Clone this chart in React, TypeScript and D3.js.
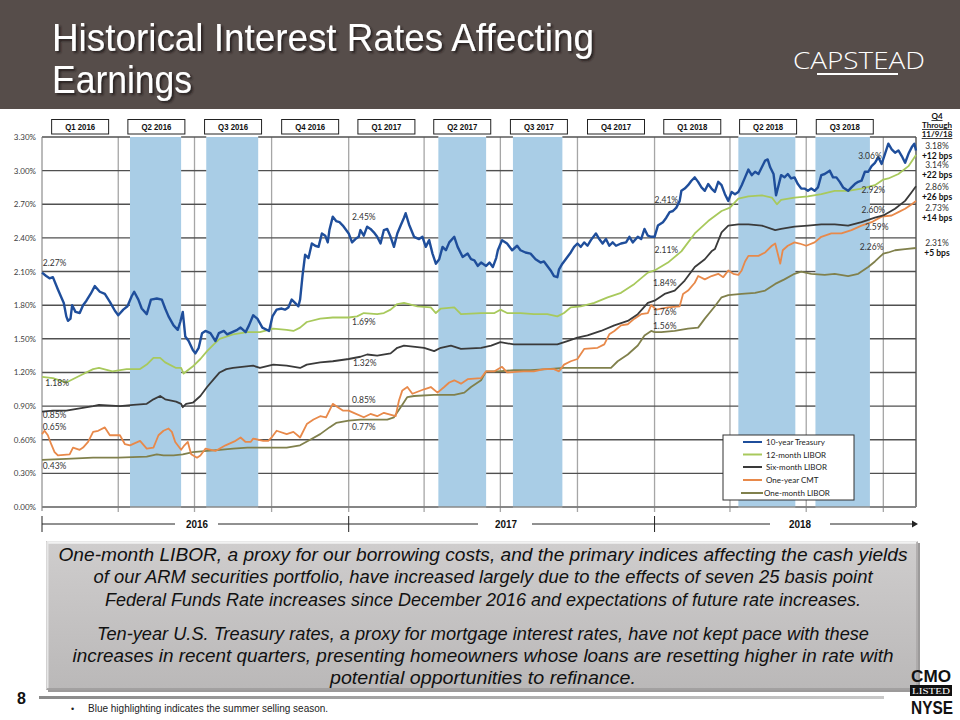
import React from 'react';
import * as d3 from 'd3';

type Pt = [string, number];

// weekly-ish readings, percent
const tenYearTreasury: Pt[] = [
  ['2016-01-01', 2.09], ['2016-01-06', 2.06], ['2016-01-10', 2.04], ['2016-01-14', 2.05], ['2016-01-20', 1.94],
  ['2016-01-24', 1.87], ['2016-01-27', 1.82], ['2016-01-30', 1.70], ['2016-02-01', 1.66], ['2016-02-04', 1.68],
  ['2016-02-06', 1.80], ['2016-02-10', 1.74], ['2016-02-15', 1.73], ['2016-02-19', 1.80], ['2016-02-23', 1.84],
  ['2016-02-28', 1.90], ['2016-03-04', 1.97], ['2016-03-10', 1.92], ['2016-03-16', 1.90], ['2016-03-22', 1.83],
  ['2016-03-28', 1.75], ['2016-04-01', 1.71], ['2016-04-07', 1.76], ['2016-04-12', 1.79], ['2016-04-17', 1.88],
  ['2016-04-20', 1.92], ['2016-04-25', 1.85], ['2016-04-29', 1.77], ['2016-05-05', 1.72], ['2016-05-10', 1.85],
  ['2016-05-17', 1.86], ['2016-05-23', 1.85], ['2016-05-27', 1.77], ['2016-05-31', 1.70], ['2016-06-06', 1.62],
  ['2016-06-11', 1.58], ['2016-06-14', 1.65], ['2016-06-17', 1.74], ['2016-06-20', 1.52], ['2016-06-24', 1.48],
  ['2016-06-29', 1.40], ['2016-07-02', 1.37], ['2016-07-06', 1.42], ['2016-07-10', 1.55], ['2016-07-14', 1.57],
  ['2016-07-20', 1.55], ['2016-07-26', 1.48], ['2016-07-30', 1.55], ['2016-08-05', 1.57], ['2016-08-09', 1.54],
  ['2016-08-15', 1.56], ['2016-08-21', 1.58], ['2016-08-25', 1.60], ['2016-08-31', 1.56], ['2016-09-04', 1.62],
  ['2016-09-09', 1.71], ['2016-09-14', 1.68], ['2016-09-20', 1.60], ['2016-09-28', 1.57], ['2016-10-02', 1.70],
  ['2016-10-07', 1.76], ['2016-10-13', 1.77], ['2016-10-17', 1.76], ['2016-10-21', 1.78], ['2016-10-25', 1.85],
  ['2016-10-29', 1.82], ['2016-11-02', 1.79], ['2016-11-04', 1.85], ['2016-11-07', 2.07], ['2016-11-10', 2.25],
  ['2016-11-14', 2.22], ['2016-11-18', 2.35], ['2016-11-22', 2.33], ['2016-11-26', 2.32], ['2016-11-30', 2.44],
  ['2016-12-04', 2.42], ['2016-12-07', 2.36], ['2016-12-09', 2.47], ['2016-12-13', 2.59], ['2016-12-17', 2.55],
  ['2016-12-21', 2.54], ['2016-12-25', 2.51], ['2017-01-01', 2.44], ['2017-01-05', 2.36], ['2017-01-09', 2.39],
  ['2017-01-13', 2.41], ['2017-01-15', 2.47], ['2017-01-19', 2.42], ['2017-01-23', 2.50], ['2017-01-27', 2.48],
  ['2017-01-31', 2.45], ['2017-02-04', 2.41], ['2017-02-08', 2.35], ['2017-02-12', 2.47], ['2017-02-16', 2.48],
  ['2017-02-20', 2.41], ['2017-02-24', 2.32], ['2017-02-28', 2.44], ['2017-03-04', 2.51], ['2017-03-08', 2.58],
  ['2017-03-10', 2.62], ['2017-03-14', 2.52], ['2017-03-20', 2.41], ['2017-03-26', 2.39], ['2017-03-30', 2.41],
  ['2017-04-03', 2.32], ['2017-04-07', 2.38], ['2017-04-11', 2.26], ['2017-04-15', 2.17], ['2017-04-19', 2.21],
  ['2017-04-23', 2.32], ['2017-04-27', 2.29], ['2017-05-01', 2.36], ['2017-05-07', 2.41], ['2017-05-11', 2.32],
  ['2017-05-17', 2.23], ['2017-05-23', 2.26], ['2017-05-27', 2.21], ['2017-05-31', 2.20], ['2017-06-04', 2.15],
  ['2017-06-08', 2.18], ['2017-06-14', 2.15], ['2017-06-18', 2.18], ['2017-06-22', 2.14], ['2017-06-26', 2.22],
  ['2017-06-28', 2.29], ['2017-07-03', 2.38], ['2017-07-09', 2.35], ['2017-07-15', 2.29], ['2017-07-21', 2.33],
  ['2017-07-25', 2.29], ['2017-07-31', 2.27], ['2017-08-06', 2.26], ['2017-08-12', 2.21], ['2017-08-18', 2.18],
  ['2017-08-22', 2.19], ['2017-08-26', 2.15], ['2017-08-30', 2.11], ['2017-09-03', 2.06], ['2017-09-07', 2.05],
  ['2017-09-09', 2.12], ['2017-09-13', 2.17], ['2017-09-19', 2.23], ['2017-09-23', 2.27], ['2017-09-27', 2.32],
  ['2017-10-01', 2.35], ['2017-10-05', 2.32], ['2017-10-09', 2.36], ['2017-10-13', 2.33], ['2017-10-17', 2.38],
  ['2017-10-23', 2.44], ['2017-10-27', 2.39], ['2017-10-31', 2.35], ['2017-11-04', 2.39], ['2017-11-08', 2.33],
  ['2017-11-12', 2.36], ['2017-11-16', 2.33], ['2017-11-22', 2.35], ['2017-11-28', 2.36], ['2017-12-02', 2.41],
  ['2017-12-06', 2.36], ['2017-12-12', 2.41], ['2017-12-16', 2.39], ['2017-12-20', 2.48], ['2017-12-24', 2.42],
  ['2017-12-28', 2.41], ['2018-01-01', 2.41], ['2018-01-05', 2.51], ['2018-01-11', 2.54], ['2018-01-15', 2.58],
  ['2018-01-19', 2.63], ['2018-01-23', 2.64], ['2018-01-27', 2.67], ['2018-01-31', 2.73], ['2018-02-02', 2.82],
  ['2018-02-06', 2.84], ['2018-02-10', 2.87], ['2018-02-14', 2.91], ['2018-02-18', 2.94], ['2018-02-22', 2.90],
  ['2018-02-26', 2.85], ['2018-03-02', 2.82], ['2018-03-06', 2.88], ['2018-03-10', 2.84], ['2018-03-14', 2.81],
  ['2018-03-18', 2.90], ['2018-03-22', 2.87], ['2018-03-26', 2.79], ['2018-03-30', 2.73], ['2018-04-03', 2.81],
  ['2018-04-07', 2.79], ['2018-04-11', 2.81], ['2018-04-15', 2.87], ['2018-04-19', 2.94], ['2018-04-23', 3.01],
  ['2018-04-27', 2.96], ['2018-05-01', 2.99], ['2018-05-05', 2.97], ['2018-05-09', 3.03], ['2018-05-13', 3.09],
  ['2018-05-16', 3.10], ['2018-05-19', 3.03], ['2018-05-23', 2.97], ['2018-05-26', 2.78], ['2018-05-30', 2.90],
  ['2018-06-01', 2.96], ['2018-06-05', 2.94], ['2018-06-09', 2.97], ['2018-06-13', 2.93], ['2018-06-17', 2.94],
  ['2018-06-21', 2.88], ['2018-06-25', 2.84], ['2018-06-29', 2.84], ['2018-07-03', 2.82], ['2018-07-07', 2.84],
  ['2018-07-11', 2.82], ['2018-07-15', 2.85], ['2018-07-19', 2.96], ['2018-07-23', 2.97], ['2018-07-29', 3.00],
  ['2018-08-02', 2.94], ['2018-08-06', 2.94], ['2018-08-10', 2.90], ['2018-08-14', 2.85], ['2018-08-20', 2.82],
  ['2018-08-24', 2.85], ['2018-08-28', 2.88], ['2018-09-01', 2.90], ['2018-09-05', 2.91], ['2018-09-09', 2.99],
  ['2018-09-13', 2.99], ['2018-09-17', 3.04], ['2018-09-21', 3.07], ['2018-09-25', 3.12], ['2018-09-29', 3.06],
  ['2018-10-03', 3.15], ['2018-10-07', 3.24], ['2018-10-11', 3.19], ['2018-10-15', 3.16], ['2018-10-19', 3.18],
  ['2018-10-23', 3.13], ['2018-10-27', 3.07], ['2018-10-31', 3.15], ['2018-11-04', 3.21], ['2018-11-07', 3.24],
  ['2018-11-09', 3.18],
];

const twelveMonthLibor: Pt[] = [
  ['2016-01-01', 1.16], ['2016-01-14', 1.15], ['2016-01-30', 1.11], ['2016-02-15', 1.17], ['2016-03-02', 1.23],
  ['2016-03-09', 1.24], ['2016-03-25', 1.21], ['2016-04-11', 1.23], ['2016-04-27', 1.23], ['2016-05-05', 1.27],
  ['2016-05-13', 1.33], ['2016-05-21', 1.33], ['2016-05-27', 1.29], ['2016-06-09', 1.24], ['2016-06-15', 1.24],
  ['2016-06-18', 1.19], ['2016-06-23', 1.22], ['2016-06-30', 1.26], ['2016-07-08', 1.32], ['2016-07-16', 1.39],
  ['2016-07-24', 1.45], ['2016-07-31', 1.50], ['2016-08-16', 1.54], ['2016-09-02', 1.56], ['2016-09-17', 1.56],
  ['2016-10-03', 1.59], ['2016-10-19', 1.58], ['2016-10-27', 1.57], ['2016-11-04', 1.60], ['2016-11-12', 1.65],
  ['2016-11-28', 1.68], ['2016-12-13', 1.69], ['2017-01-01', 1.69], ['2017-01-11', 1.70], ['2017-01-19', 1.73],
  ['2017-02-04', 1.72], ['2017-02-12', 1.73], ['2017-02-20', 1.76], ['2017-02-28', 1.81], ['2017-03-08', 1.82],
  ['2017-03-24', 1.79], ['2017-04-09', 1.78], ['2017-04-15', 1.73], ['2017-04-21', 1.77], ['2017-05-07', 1.78],
  ['2017-05-15', 1.72], ['2017-06-08', 1.73], ['2017-06-24', 1.73], ['2017-07-01', 1.76], ['2017-07-09', 1.73],
  ['2017-07-25', 1.73], ['2017-08-10', 1.72], ['2017-08-26', 1.72], ['2017-09-07', 1.70], ['2017-09-15', 1.73],
  ['2017-09-23', 1.78], ['2017-10-05', 1.79], ['2017-10-21', 1.82], ['2017-11-06', 1.87], ['2017-11-22', 1.91],
  ['2017-12-08', 1.99], ['2017-12-24', 2.09], ['2018-01-01', 2.11], ['2018-01-17', 2.18], ['2018-02-02', 2.28],
  ['2018-02-18', 2.44], ['2018-03-06', 2.55], ['2018-03-22', 2.64], ['2018-04-01', 2.67], ['2018-04-11', 2.75],
  ['2018-04-23', 2.77], ['2018-05-09', 2.78], ['2018-05-21', 2.76], ['2018-05-27', 2.70], ['2018-06-01', 2.74],
  ['2018-06-17', 2.76], ['2018-07-03', 2.77], ['2018-07-19', 2.79], ['2018-08-04', 2.82], ['2018-08-20', 2.82],
  ['2018-09-05', 2.84], ['2018-09-21', 2.87], ['2018-10-01', 2.92], ['2018-10-07', 2.93], ['2018-10-19', 2.97],
  ['2018-10-31', 3.04], ['2018-11-09', 3.14],
];

const sixMonthLibor: Pt[] = [
  ['2016-01-01', 0.85], ['2016-01-14', 0.86], ['2016-01-30', 0.86], ['2016-02-15', 0.88], ['2016-03-02', 0.90],
  ['2016-03-09', 0.91], ['2016-04-03', 0.90], ['2016-04-19', 0.91], ['2016-05-05', 0.92], ['2016-05-13', 0.96],
  ['2016-05-21', 0.99], ['2016-05-27', 0.96], ['2016-06-09', 0.94], ['2016-06-15', 0.92], ['2016-06-17', 0.89],
  ['2016-06-21', 0.92], ['2016-06-29', 0.93], ['2016-07-08', 0.99], ['2016-07-16', 1.07], ['2016-07-24', 1.14],
  ['2016-07-31', 1.20], ['2016-08-08', 1.23], ['2016-08-16', 1.24], ['2016-09-09', 1.26], ['2016-09-17', 1.24],
  ['2016-10-03', 1.27], ['2016-10-19', 1.26], ['2016-11-04', 1.24], ['2016-11-12', 1.27], ['2016-11-28', 1.29],
  ['2016-12-13', 1.30], ['2017-01-01', 1.32], ['2017-01-15', 1.34], ['2017-01-23', 1.36], ['2017-02-04', 1.35],
  ['2017-02-20', 1.37], ['2017-02-28', 1.42], ['2017-03-08', 1.44], ['2017-04-01', 1.42], ['2017-04-13', 1.39],
  ['2017-04-21', 1.42], ['2017-05-03', 1.44], ['2017-05-15', 1.41], ['2017-06-08', 1.42], ['2017-06-20', 1.44],
  ['2017-07-01', 1.47], ['2017-07-17', 1.45], ['2017-08-06', 1.45], ['2017-09-07', 1.45], ['2017-09-19', 1.48],
  ['2017-10-01', 1.51], ['2017-10-13', 1.53], ['2017-10-29', 1.57], ['2017-11-14', 1.62], ['2017-11-30', 1.66],
  ['2017-12-12', 1.72], ['2017-12-24', 1.82], ['2018-01-01', 1.84], ['2018-01-13', 1.90], ['2018-01-25', 1.93],
  ['2018-02-06', 2.02], ['2018-02-18', 2.14], ['2018-03-02', 2.21], ['2018-03-10', 2.28], ['2018-03-14', 2.30],
  ['2018-03-22', 2.45], ['2018-03-30', 2.51], ['2018-04-11', 2.52], ['2018-04-23', 2.52], ['2018-05-09', 2.51],
  ['2018-05-25', 2.47], ['2018-06-01', 2.48], ['2018-06-17', 2.50], ['2018-07-03', 2.51], ['2018-07-19', 2.52],
  ['2018-08-04', 2.52], ['2018-08-20', 2.51], ['2018-09-05', 2.54], ['2018-09-21', 2.58], ['2018-10-01', 2.60],
  ['2018-10-15', 2.66], ['2018-10-27', 2.73], ['2018-11-04', 2.81], ['2018-11-09', 2.86],
];

const oneYearCmt: Pt[] = [
  ['2016-01-01', 0.65], ['2016-01-04', 0.68], ['2016-01-08', 0.64], ['2016-01-12', 0.56], ['2016-01-16', 0.49],
  ['2016-01-20', 0.46], ['2016-02-03', 0.47], ['2016-02-07', 0.53], ['2016-02-15', 0.51], ['2016-02-19', 0.53],
  ['2016-02-25', 0.58], ['2016-03-02', 0.67], ['2016-03-08', 0.68], ['2016-03-16', 0.71], ['2016-03-22', 0.64],
  ['2016-04-03', 0.64], ['2016-04-09', 0.56], ['2016-04-15', 0.55], ['2016-04-27', 0.59], ['2016-05-05', 0.52],
  ['2016-05-13', 0.53], ['2016-05-19', 0.64], ['2016-05-25', 0.68], ['2016-05-31', 0.70], ['2016-06-04', 0.67],
  ['2016-06-08', 0.58], ['2016-06-15', 0.51], ['2016-06-19', 0.55], ['2016-06-23', 0.58], ['2016-06-27', 0.47],
  ['2016-07-04', 0.44], ['2016-07-08', 0.46], ['2016-07-14', 0.52], ['2016-07-26', 0.50], ['2016-08-07', 0.55],
  ['2016-08-19', 0.59], ['2016-08-25', 0.62], ['2016-08-31', 0.58], ['2016-09-06', 0.58], ['2016-09-09', 0.61],
  ['2016-09-21', 0.59], ['2016-09-27', 0.59], ['2016-10-01', 0.62], ['2016-10-07', 0.68], ['2016-10-19', 0.65],
  ['2016-10-27', 0.67], ['2016-11-04', 0.62], ['2016-11-12', 0.74], ['2016-11-20', 0.78], ['2016-11-28', 0.81],
  ['2016-12-05', 0.80], ['2016-12-13', 0.92], ['2016-12-19', 0.89], ['2016-12-25', 0.86], ['2017-01-01', 0.86],
  ['2017-01-07', 0.84], ['2017-01-19', 0.80], ['2017-01-27', 0.83], ['2017-02-04', 0.81], ['2017-02-12', 0.84],
  ['2017-02-26', 0.81], ['2017-03-02', 0.95], ['2017-03-06', 1.04], ['2017-03-12', 1.07], ['2017-03-18', 1.01],
  ['2017-04-01', 1.05], ['2017-04-09', 1.07], ['2017-04-17', 1.02], ['2017-04-25', 1.07], ['2017-05-01', 1.11],
  ['2017-05-07', 1.13], ['2017-05-15', 1.10], ['2017-05-23', 1.14], ['2017-06-08', 1.15], ['2017-06-14', 1.21],
  ['2017-06-24', 1.21], ['2017-07-03', 1.25], ['2017-07-09', 1.20], ['2017-07-29', 1.21], ['2017-08-10', 1.21],
  ['2017-08-22', 1.23], ['2017-09-03', 1.23], ['2017-09-09', 1.21], ['2017-09-15', 1.27], ['2017-09-23', 1.30],
  ['2017-10-01', 1.32], ['2017-10-09', 1.41], ['2017-10-25', 1.42], ['2017-11-02', 1.45], ['2017-11-08', 1.54],
  ['2017-11-14', 1.57], ['2017-11-22', 1.62], ['2017-11-30', 1.63], ['2017-12-08', 1.68], ['2017-12-16', 1.72],
  ['2017-12-24', 1.73], ['2017-12-28', 1.80], ['2018-01-03', 1.76], ['2018-01-17', 1.78], ['2018-01-31', 1.79],
  ['2018-02-04', 1.90], ['2018-02-10', 1.93], ['2018-02-18', 2.00], ['2018-02-22', 2.06], ['2018-03-02', 2.03],
  ['2018-03-10', 2.06], ['2018-03-18', 2.08], ['2018-03-24', 2.05], ['2018-03-30', 2.11], ['2018-04-05', 2.08],
  ['2018-04-11', 2.07], ['2018-04-15', 2.11], ['2018-04-19', 2.19], ['2018-04-23', 2.24], ['2018-05-05', 2.24],
  ['2018-05-13', 2.27], ['2018-05-21', 2.33], ['2018-05-25', 2.35], ['2018-05-29', 2.23], ['2018-05-31', 2.17],
  ['2018-06-03', 2.29], ['2018-06-09', 2.33], ['2018-06-17', 2.36], ['2018-06-23', 2.35], ['2018-07-01', 2.33],
  ['2018-07-11', 2.36], ['2018-07-19', 2.41], ['2018-07-31', 2.44], ['2018-08-12', 2.44], ['2018-08-24', 2.47],
  ['2018-09-05', 2.51], ['2018-09-17', 2.54], ['2018-09-29', 2.59], ['2018-10-11', 2.60], ['2018-10-19', 2.63],
  ['2018-10-27', 2.66], ['2018-11-04', 2.70], ['2018-11-09', 2.73],
];

const oneMonthLibor: Pt[] = [
  ['2016-01-01', 0.42], ['2016-01-30', 0.43], ['2016-03-02', 0.44], ['2016-04-01', 0.44], ['2016-05-05', 0.45],
  ['2016-05-17', 0.47], ['2016-05-25', 0.46], ['2016-06-06', 0.46], ['2016-06-17', 0.47], ['2016-06-29', 0.49],
  ['2016-07-16', 0.50], ['2016-07-31', 0.51], ['2016-08-16', 0.52], ['2016-09-02', 0.53], ['2016-10-03', 0.53],
  ['2016-10-19', 0.53], ['2016-11-04', 0.55], ['2016-11-16', 0.60], ['2016-11-28', 0.65], ['2016-12-09', 0.71],
  ['2016-12-17', 0.75], ['2017-01-01', 0.77], ['2017-01-15', 0.78], ['2017-02-16', 0.78], ['2017-02-24', 0.80],
  ['2017-03-04', 0.89], ['2017-03-12', 0.98], ['2017-03-20', 0.99], ['2017-04-13', 1.00], ['2017-05-07', 1.00],
  ['2017-05-19', 1.02], ['2017-05-27', 1.07], ['2017-06-08', 1.13], ['2017-06-14', 1.21], ['2017-06-28', 1.21],
  ['2017-07-17', 1.22], ['2017-08-06', 1.22], ['2017-08-26', 1.23], ['2017-09-15', 1.24], ['2017-10-05', 1.24],
  ['2017-10-25', 1.24], ['2017-11-10', 1.24], ['2017-11-18', 1.30], ['2017-11-30', 1.36], ['2017-12-12', 1.44],
  ['2017-12-20', 1.53], ['2017-12-28', 1.57], ['2018-01-01', 1.56], ['2018-01-09', 1.56], ['2018-01-25', 1.57],
  ['2018-02-10', 1.59], ['2018-02-22', 1.60], ['2018-03-02', 1.68], ['2018-03-14', 1.79], ['2018-03-22', 1.87],
  ['2018-03-30', 1.89], ['2018-04-15', 1.90], ['2018-05-01', 1.91], ['2018-05-13', 1.93], ['2018-05-25', 1.99],
  ['2018-06-05', 2.03], ['2018-06-17', 2.08], ['2018-06-25', 2.10], ['2018-07-07', 2.08], ['2018-07-23', 2.07],
  ['2018-08-04', 2.08], ['2018-08-20', 2.06], ['2018-09-01', 2.08], ['2018-09-13', 2.14], ['2018-09-21', 2.19],
  ['2018-10-01', 2.26], ['2018-10-07', 2.27], ['2018-10-15', 2.29], ['2018-10-27', 2.30], ['2018-11-09', 2.31],
];

const yTicks = [0, 0.3, 0.6, 0.9, 1.2, 1.5, 1.8, 2.1, 2.4, 2.7, 3.0, 3.3];
const quarterLabels = ['Q1 2016', 'Q2 2016', 'Q3 2016', 'Q4 2016', 'Q1 2017', 'Q2 2017', 'Q3 2017', 'Q4 2017', 'Q1 2018', 'Q2 2018', 'Q3 2018'];
const yearLabels = ['2016', '2017', '2018'];

// summer selling season highlights
const summerBands: [string, string][] = [
  ['2016-04-15', '2016-06-15'], ['2016-07-15', '2016-09-15'],
  ['2017-04-18', '2017-06-14'], ['2017-07-16', '2017-09-13'],
  ['2018-04-11', '2018-06-18'], ['2018-07-12', '2018-09-15'],
];

// point labels: text, date and value where the label sits
const pointLabels: [string, string, number][] = [
  ['2.27%', '2016-01-02', 2.18], ['1.18%', '2016-01-05', 1.11], ['0.85%', '2016-01-02', 0.82],
  ['0.65%', '2016-01-02', 0.71], ['0.43%', '2016-01-02', 0.37],
  ['2.45%', '2017-01-05', 2.59], ['1.69%', '2017-01-05', 1.65], ['1.32%', '2017-01-06', 1.28],
  ['0.85%', '2017-01-05', 0.95], ['0.77%', '2017-01-05', 0.71],
  ['2.41%', '2018-01-01', 2.74], ['2.11%', '2018-01-01', 2.29], ['1.84%', '2017-12-30', 2.00],
  ['1.76%', '2017-12-30', 1.74], ['1.56%', '2017-12-30', 1.61],
  ['3.06%', '2018-09-01', 3.13], ['2.92%', '2018-09-05', 2.83], ['2.60%', '2018-09-05', 2.65],
  ['2.59%', '2018-09-09', 2.50], ['2.26%', '2018-09-03', 2.32],
];

const latestRates = ['3.18%', '3.14%', '2.86%', '2.73%', '2.31%'];
const quarterChanges = ['+12 bps', '+22 bps', '+26 bps', '+14 bps', '+5 bps'];

const calloutLines = [
  'One-month LIBOR, a proxy for our borrowing costs, and the primary indices affecting the cash yields',
  'of our ARM securities portfolio, have increased largely due to the effects of seven 25 basis point',
  'Federal Funds Rate increases since December 2016 and expectations of future rate increases.',
  'Ten-year U.S. Treasury rates, a proxy for mortgage interest rates, have not kept pace with these',
  'increases in recent quarters, presenting homeowners whose loans are resetting higher in rate with',
  'potential opportunities to refinance.',
];

const series = [
  { name: '10-year Treasury', data: tenYearTreasury, color: '#1f4e9b', width: 2.4 },
  { name: '12-month LIBOR', data: twelveMonthLibor, color: '#a8c95c', width: 1.8 },
  { name: 'Six-month LIBOR', data: sixMonthLibor, color: '#3a3a3a', width: 1.8 },
  { name: 'One-year CMT', data: oneYearCmt, color: '#e8894a', width: 1.8 },
  { name: 'One-month LIBOR', data: oneMonthLibor, color: '#80804c', width: 1.8 },
];

const W = 960;
const H = 720;
const plot = { left: 42, right: 916, top: 137, bottom: 507 };
const parse = d3.timeParse('%Y-%m-%d');
const start = parse('2016-01-01')!;
const end = parse('2018-11-09')!;

const x = d3.scaleTime().domain([start, end]).range([plot.left, plot.right]);
const y = d3.scaleLinear().domain([0, 3.3]).range([plot.bottom, plot.top]);
const line = d3.line<Pt>().x(d => x(parse(d[0])!)).y(d => y(d[1]));
const pct = (v: number) => d3.format('.2f')(v) + '%';

const quarterStarts = d3.timeMonth.every(3)!.range(start, end);
const yearStarts = d3.timeYear.range(start, end);

// no narrow face installed: squeeze Arial-metric text with textLength
const arial = "'Liberation Sans', Arial, sans-serif";
const labelFont = "Lato, 'Liberation Sans', sans-serif";

export default function App() {
  const noteYs = [146, 165, 187, 208, 243];
  const calloutY = [561, 583, 606, 640, 662, 684];
  const calloutW = [849, 779, 756, 772, 821, 306];
  const legendRows = [442, 454.5, 467, 480, 493];
  const yearLabelX = [197, 506, 800];
  const yearGap = [[175, 218], [478, 532], [770, 830]];

  return (
    <div style={{ position: 'absolute', left: 0, top: 0 }}>
      <svg width={W} height={H} viewBox={`0 0 ${W} ${H}`} style={{ display: 'block', background: '#fff' }}>
        <defs>
          <linearGradient id="boxFill" x1="0" y1="0" x2="0" y2="1">
            <stop offset="0" stopColor="#cfcdcd" />
            <stop offset="1" stopColor="#bab8b8" />
          </linearGradient>
          <linearGradient id="ruleFill" x1="0" y1="0" x2="1" y2="0">
            <stop offset="0" stopColor="#8a8a8a" />
            <stop offset="1" stopColor="#c8c8c8" />
          </linearGradient>
          <filter id="titleShadow" x="-5%" y="-20%" width="110%" height="150%">
            <feDropShadow dx="2" dy="2" stdDeviation="0.8" floodColor="#1e1816" floodOpacity="0.85" />
          </filter>
        </defs>

        {/* header */}
        <rect x={0} y={0} width={W} height={109} fill="#564d4a" />
        <g fontFamily={arial} fontSize={38} fill="#fff" filter="url(#titleShadow)">
          <text x={52} y={51} textLength={542} lengthAdjust="spacingAndGlyphs">Historical Interest Rates Affecting</text>
          <text x={52} y={93} textLength={140} lengthAdjust="spacingAndGlyphs">Earnings</text>
        </g>
        <text x={793} y={69} fill="#fff" fontFamily="'Open Sans', 'Liberation Sans', sans-serif" fontWeight={300}
          fontSize={24} textLength={132} lengthAdjust="spacingAndGlyphs">CAPSTEAD</text>
        <line x1={817} x2={898} y1={74} y2={74} stroke="#fff" strokeWidth={2} />

        {/* summer bands */}
        {summerBands.map(([a, b]) => (
          <rect key={a} x={x(parse(a)!)} y={plot.top} width={x(parse(b)!) - x(parse(a)!)}
            height={plot.bottom - plot.top} fill="#a9cde6" />
        ))}

        {/* vertical quarter gridlines */}
        {quarterStarts.slice(1).map(d => (
          <line key={+d} x1={x(d)} x2={x(d)} y1={plot.top} y2={plot.bottom + 5} stroke="#a6a6a6" strokeWidth={1.3} />
        ))}
        {/* horizontal gridlines, hidden under bands */}
        {yTicks.map(v => {
          const segs: [number, number][] = [];
          let cur = plot.left;
          summerBands.forEach(([a, b]) => {
            segs.push([cur, x(parse(a)!)]);
            cur = x(parse(b)!);
          });
          segs.push([cur, plot.right]);
          return (
            <g key={v}>
              {segs.map(([s, e], i) => (
                <line key={i} x1={s} x2={e} y1={y(v)} y2={y(v)} stroke="#505050" strokeWidth={1.4} />
              ))}
            </g>
          );
        })}
        <line x1={plot.right} x2={plot.right} y1={plot.top} y2={plot.bottom} stroke="#505050" strokeWidth={1.4} />
        <line x1={plot.left} x2={plot.left} y1={plot.top} y2={plot.bottom + 4} stroke="#777" strokeWidth={1} />
        <line x1={plot.left} x2={plot.right} y1={plot.bottom} y2={plot.bottom} stroke="#888" strokeWidth={1.3} />

        {/* y tick labels */}
        {yTicks.map(v => (
          <text key={v} x={36} y={y(v) + 3} textAnchor="end" fontFamily={labelFont} fontSize={8} fill="#404040">
            {pct(v)}
          </text>
        ))}

        {/* quarter label boxes */}
        {quarterLabels.map((q, i) => {
          const cx = (x(quarterStarts[i]) + x(quarterStarts[i + 1])) / 2;
          return (
            <g key={q}>
              <rect x={cx - 28.5} y={119.5} width={57} height={14.5} fill="#fff" stroke="#222" strokeWidth={1} />
              <text x={cx} y={130} textAnchor="middle" fontFamily={arial} fontWeight="bold" fontSize={8.2} fill="#111"
                textLength={30} lengthAdjust="spacingAndGlyphs">
                {q}
              </text>
            </g>
          );
        })}

        {/* series */}
        {series.slice().reverse().map(s => (
          <path key={s.name} d={line(s.data) ?? ''} fill="none" stroke={s.color} strokeWidth={s.width}
            strokeLinejoin="round" />
        ))}

        {/* point labels */}
        {pointLabels.map(([t, d, v], i) => (
          <text key={i} x={x(parse(d)!)} y={y(v) + 3} fontFamily={labelFont} fontSize={8.5} fill="#333">{t}</text>
        ))}

        {/* Q4 notes */}
        <g fontFamily={labelFont} textAnchor="middle" fill="#111">
          {['Q4', 'Through', '11/9/18'].map((t, i) => (
            <text key={t} x={937} y={119 + i * 9} fontWeight="bold" fontSize={8} textDecoration="underline">{t}</text>
          ))}
          {latestRates.map((r, i) => (
            <g key={r}>
              <text x={937} y={noteYs[i] + 3} fontSize={8.5} fill="#333">{r}</text>
              <text x={937} y={noteYs[i] + 13} fontSize={8.5} fontWeight="bold">{quarterChanges[i]}</text>
            </g>
          ))}
        </g>

        {/* legend */}
        <rect x={723} y={435} width={131} height={65} fill="#fff" stroke="#333" strokeWidth={1} />
        {series.map((s, i) => (
          <g key={s.name}>
            <line x1={i === 4 ? 741 : 743} x2={i === 4 ? 763 : 762} y1={legendRows[i]} y2={legendRows[i]}
              stroke={s.color} strokeWidth={2} />
            <text x={i === 4 ? 764 : 766} y={legendRows[i] + 3} fontFamily={labelFont} fontSize={8} fill="#222">{s.name}</text>
          </g>
        ))}

        {/* year axis */}
        {yearStarts.map((d, i) => {
          const nextX = i < yearStarts.length - 1 ? x(yearStarts[i + 1]) : 912;
          const [g0, g1] = yearGap[i];
          return (
            <g key={+d}>
              <line x1={x(d)} x2={x(d)} y1={516} y2={532} stroke="#222" strokeWidth={1} />
              <line x1={x(d)} x2={g0} y1={524} y2={524} stroke="#222" strokeWidth={1} />
              <line x1={g1} x2={nextX} y1={524} y2={524} stroke="#222" strokeWidth={1} />
              <text x={yearLabelX[i]} y={528} textAnchor="middle" fontFamily={arial} fontWeight="bold" fontSize={10}
                fill="#111" textLength={22} lengthAdjust="spacingAndGlyphs">{yearLabels[i]}</text>
            </g>
          );
        })}
        <path d="M912,520.5 L918,524 L912,527.5 Z" fill="#222" />

        {/* callout box */}
        <rect x={48} y={543} width={872} height={149} fill="#9c9a9a" />
        <rect x={46} y={541} width={872} height={149} fill="url(#boxFill)" />
        <line x1={47} x2={917} y1={542.5} y2={542.5} stroke="#f2f2f2" strokeWidth={2.5} />
        <line x1={47.5} x2={47.5} y1={542} y2={689} stroke="#e6e6e6" strokeWidth={2} />
        <line x1={47} x2={917} y1={689} y2={689} stroke="#9a9898" strokeWidth={1.5} />
        <line x1={917} x2={917} y1={542} y2={690} stroke="#a8a6a6" strokeWidth={1.5} />
        {calloutLines.map((t, i) => (
          <text key={i} x={483} y={calloutY[i]} textAnchor="middle" fontFamily={arial} fontStyle="italic"
            fontSize={17.5} fill="#111" textLength={calloutW[i]} lengthAdjust="spacingAndGlyphs">{t}</text>
        ))}

        {/* footer */}
        <text x={17} y={704} fontFamily={arial} fontWeight="bold" fontSize={16} fill="#111">8</text>
        <rect x={39} y={696} width={845} height={3} fill="url(#ruleFill)" />
        <text x={71} y={712} fontFamily={arial} fontSize={9} fill="#222">•</text>
        <text x={88} y={712} fontFamily={arial} fontSize={10} fill="#222">
          Blue highlighting indicates the summer selling season.
        </text>

        {/* exchange badge */}
        <g fontFamily={arial} fontWeight="bold" fill="#111">
          <text x={911} y={682} fontSize={17} textLength={40} lengthAdjust="spacingAndGlyphs">CMO</text>
          <rect x={910} y={685} width={42} height={11} fill="#111" />
          <text x={931} y={694} textAnchor="middle" fontFamily="'Liberation Serif', serif" fontWeight="normal"
            fontSize={9} fill="#fff" textLength={38} lengthAdjust="spacingAndGlyphs">LISTED</text>
          <text x={911} y={714} fontSize={18} textLength={42} lengthAdjust="spacingAndGlyphs">NYSE</text>
        </g>
      </svg>
    </div>
  );
}
